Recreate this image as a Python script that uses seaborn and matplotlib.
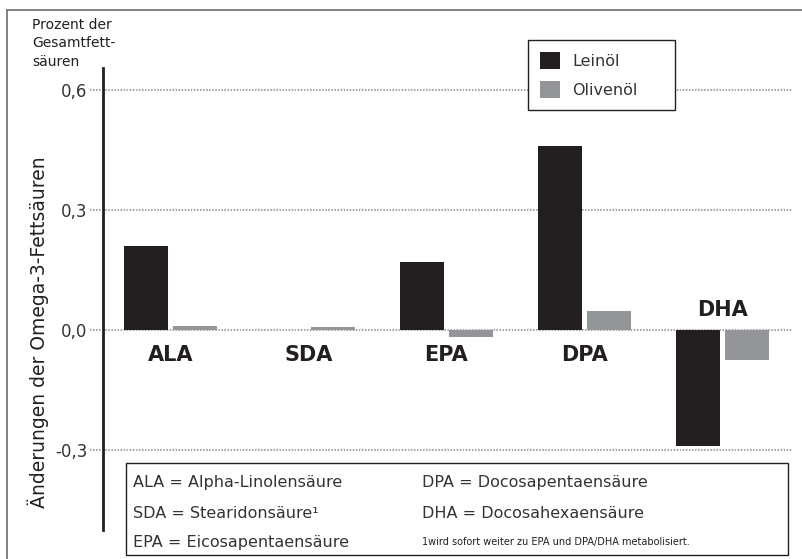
import matplotlib
matplotlib.use("Agg")
import matplotlib.pyplot as plt
from matplotlib.lines import Line2D
from matplotlib.patches import Rectangle
import pandas as pd
import seaborn as sns

# values (change in % of total fatty acids)
fatty_acids = ["ALA", "SDA", "EPA", "DPA", "DHA"]
leinoel = [0.21, 0.0, 0.17, 0.46, -0.29]
olivenoel = [0.01, 0.007, -0.018, 0.048, -0.075]
oils = ["Leinöl", "Olivenöl"]
y_ticks = [-0.3, 0.0, 0.3, 0.6]
y_tick_labels = ["-0,3", "0,0", "0,3", "0,6"]

glossary_left = ["ALA = Alpha-Linolensäure", "SDA = Stearidonsäure¹", "EPA = Eicosapentaensäure"]
glossary_right = ["DPA = Docosapentaensäure", "DHA = Docosahexaensäure"]
footnote = "1wird sofort weiter zu EPA und DPA/DHA metabolisiert."

# layout only: vertical spot of the bold category names (data units)
label_y = [-0.0625, -0.0625, -0.0625, -0.0625, 0.05]

dark = "#231f20"
grey = "#939598"

df = pd.DataFrame({
    "Fettsäure": fatty_acids * 2,
    "Öl": [oils[0]] * len(fatty_acids) + [oils[1]] * len(fatty_acids),
    "Wert": leinoel + olivenoel,
})

sns.set_style("white")
plt.rcParams["font.family"] = ["DejaVu Sans"]

W, H = 803, 559
fig = plt.figure(figsize=(W / 100, H / 100), dpi=100)
ax = fig.add_axes([103 / W, 1 - 530 / H, 689 / W, 462 / H])

sns.barplot(data=df, x="Fettsäure", y="Wert", hue="Öl",
            palette={oils[0]: dark, oils[1]: grey},
            width=0.703, gap=0.1, saturation=1, linewidth=0, ax=ax)

ax.set_xlim(-0.489, 4.504)
ax.set_ylim(-0.5, 0.655)
ax.set_xticks([])
ax.set_xlabel("")
ax.set_ylabel("")
ax.set_yticks(y_ticks)
ax.set_yticklabels(y_tick_labels, fontsize=12, color="#333333")
ax.tick_params(axis="y", length=0, pad=11)
for s in ["top", "right", "bottom"]:
    ax.spines[s].set_visible(False)
ax.spines["left"].set_color(dark)
ax.spines["left"].set_linewidth(2)

# dotted gridlines that run out to the tick labels
for t in y_ticks:
    ax.axhline(t, xmin=-0.019, xmax=1, color="#8a8a8a", lw=1.1,
               ls=(0, (1, 1)), clip_on=False, zorder=0)

# bold category names inside the plot
for i, name in enumerate(fatty_acids):
    ax.text(i, label_y[i], name, ha="center", va="center", fontsize=15,
            fontweight="bold", color=dark,
            family=["Liberation Sans Narrow", "DejaVu Sans"])

# legend box
handles, labels = ax.get_legend_handles_labels()
ax.legend(handles, labels, loc="upper left",
          bbox_to_anchor=(528 / W, 1 - 120 / H, 147 / W, 80 / H),
          bbox_transform=fig.transFigure, mode="expand",
          frameon=True, fancybox=False, edgecolor=dark, framealpha=1,
          fontsize=11.5, handlelength=1.25, handleheight=1.25,
          handletextpad=0.75, labelspacing=0.75, borderpad=0.75,
          borderaxespad=0, labelcolor="#333333")
ax.get_legend().get_frame().set_linewidth(1.0)

# axis titles
fig.text(38 / W, 1 - 332 / H, "Änderungen der Omega-3-Fettsäuren",
         rotation=90, ha="center", va="center", fontsize=13.5, color=dark)
fig.text(32 / W, 1 - 18 / H, "Prozent der\nGesamtfett-\nsäuren",
         ha="left", va="top", fontsize=10, color=dark, linespacing=1.4)

# glossary box at the bottom
fig.add_artist(Rectangle((126 / W, 1 - 555 / H), 662 / W, 92 / H,
                         transform=fig.transFigure, facecolor="white",
                         edgecolor=dark, lw=1.0, zorder=3))
rows = [483, 513, 542]
for r, txt in zip(rows, glossary_left):
    fig.text(133 / W, 1 - r / H, txt, ha="left", va="center",
             fontsize=11.5, color="#333333", zorder=4)
for r, txt in zip(rows, glossary_right):
    fig.text(422 / W, 1 - r / H, txt, ha="left", va="center",
             fontsize=11.5, color="#333333", zorder=4)
fig.text(422 / W, 1 - rows[2] / H, footnote, ha="left", va="center",
         fontsize=7, color=dark, zorder=4)

# outer frame (top and left edges visible)
fig.add_artist(Line2D([7 / W, 7 / W], [0, 1 - 10 / H], color="#777777", lw=1.3))
fig.add_artist(Line2D([7 / W, 1], [1 - 10 / H, 1 - 10 / H], color="#777777", lw=1.3))

fig.savefig("out.png", dpi=100)
